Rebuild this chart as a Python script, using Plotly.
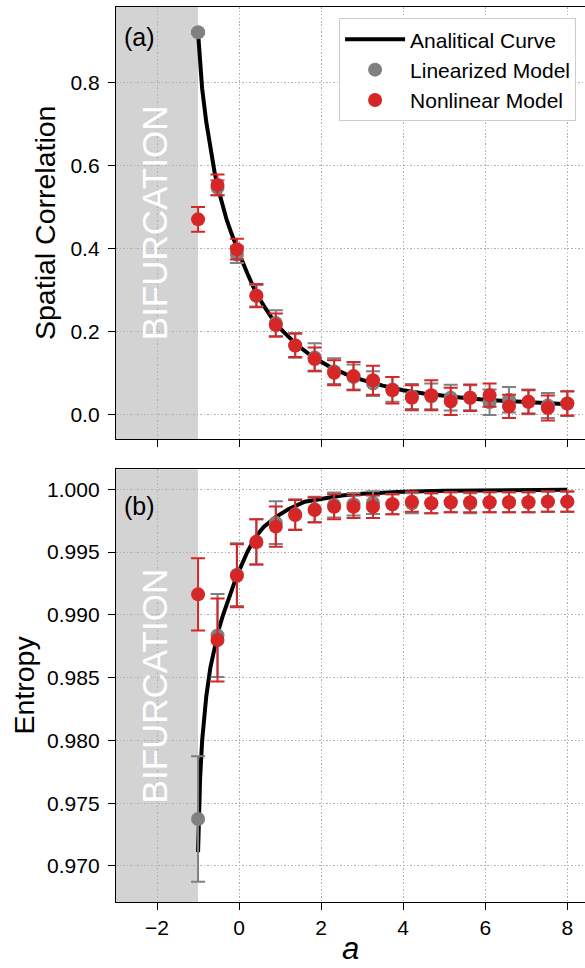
import plotly.graph_objects as go

# ---------------- data ----------------
a_vals = [-1.0, -0.526, -0.053, 0.421, 0.895, 1.368, 1.842, 2.316, 2.789, 3.263,
          3.737, 4.211, 4.684, 5.158, 5.632, 6.105, 6.579, 7.053, 7.526, 8.0]

# (a) spatial correlation
lin_corr = [0.921, 0.546, 0.385, 0.286, 0.220, 0.166, 0.137, 0.104, 0.090, 0.074,
            0.060, 0.043, 0.043, 0.040, 0.040, 0.029, 0.035, 0.030, 0.021, 0.026]
lin_corr_err = [0.004, 0.018, 0.020, 0.026, 0.031, 0.030, 0.034, 0.031, 0.030, 0.030,
                0.030, 0.030, 0.031, 0.031, 0.030, 0.031, 0.031, 0.030, 0.030, 0.030]
nl_corr = [0.470, 0.553, 0.398, 0.286, 0.215, 0.166, 0.133, 0.100, 0.092, 0.082,
           0.058, 0.040, 0.046, 0.031, 0.040, 0.046, 0.019, 0.030, 0.015, 0.026]
nl_corr_err = [0.030, 0.025, 0.025, 0.028, 0.028, 0.028, 0.028, 0.030, 0.034, 0.035,
               0.032, 0.030, 0.036, 0.033, 0.032, 0.028, 0.028, 0.028, 0.030, 0.029]

curve_a_x = [-1.0, -0.95, -0.9, -0.8, -0.7, -0.6, -0.5, -0.4, -0.3, -0.2, -0.1, 0.0,
             0.2, 0.4, 0.6, 0.8, 1.0, 1.4, 1.8, 2.2, 2.6, 3.0, 3.5, 4.0, 4.5, 5.0,
             5.5, 6.0, 6.5, 7.0, 7.5, 8.0]
curve_a_y = [0.920, 0.845, 0.785, 0.705, 0.640, 0.585, 0.540, 0.500, 0.468, 0.440, 0.412, 0.388,
             0.340, 0.295, 0.262, 0.232, 0.207, 0.168, 0.138, 0.115, 0.097, 0.083, 0.069, 0.058,
             0.050, 0.044, 0.039, 0.035, 0.032, 0.029, 0.026, 0.024]

# (b) entropy
lin_ent = [0.97374, 0.98835, 0.99320, 0.99580, 0.99734, 0.99800, 0.99840, 0.99875, 0.99880, 0.99893,
           0.99880, 0.99888, 0.99888, 0.99896, 0.99888, 0.99896, 0.99896, 0.99896, 0.99901, 0.99901]
lin_ent_err = [0.0050, 0.0033, 0.0025, 0.0018, 0.0017, 0.0012, 0.0010, 0.0010, 0.0009, 0.0009,
               0.0008, 0.0008, 0.0008, 0.0008, 0.0008, 0.0008, 0.0008, 0.0008, 0.0008, 0.0008]
nl_ent = [0.99163, 0.98799, 0.99311, 0.99580, 0.99702, 0.99795, 0.99835, 0.99861, 0.99861, 0.99861,
          0.99880, 0.99901, 0.99888, 0.99896, 0.99896, 0.99896, 0.99896, 0.99896, 0.99901, 0.99901]
nl_ent_err = [0.00287, 0.0033, 0.0025, 0.0018, 0.0016, 0.0012, 0.0010, 0.0010, 0.0009, 0.0009,
              0.0008, 0.0008, 0.0008, 0.0008, 0.0008, 0.0008, 0.0008, 0.0008, 0.0008, 0.0008]

curve_b_x = [-1.0, -0.99, -0.97, -0.95, -0.9, -0.85, -0.8, -0.7, -0.6, -0.5, -0.4, -0.3, -0.2,
             -0.1, 0.0, 0.2, 0.4, 0.6, 0.9, 1.2, 1.6, 2.0, 2.5, 3.0, 3.5, 4.0, 5.0, 6.0, 7.0, 8.0]
curve_b_y = [0.9711, 0.9728, 0.9752, 0.9770, 0.9800, 0.9820, 0.9835, 0.9858, 0.9875, 0.9888,
             0.9899, 0.9909, 0.9918, 0.9927, 0.9935, 0.9950, 0.9962, 0.9970, 0.9978, 0.9984,
             0.9990, 0.99925, 0.9995, 0.99965, 0.99975, 0.9998, 0.99988, 0.99992, 0.99994, 0.99995]

bif_start, bif_end = -3.0, -1.0

# ---------------- style ----------------
FONT = "Liberation Sans, Arial, Helvetica, sans-serif"
GRAY = "#808080"
RED = "#d62728"

fig = go.Figure()


def add_panel(xa, ya, curve_x, curve_y, lin, lin_err, nl, nl_err, show):
    fig.add_trace(go.Scatter(x=curve_x, y=curve_y, mode="lines", name="Analitical Curve",
                             line=dict(color="black", width=4), xaxis=xa, yaxis=ya,
                             showlegend=show))
    fig.add_trace(go.Scatter(x=a_vals, y=lin, mode="markers", name="Linearized Model",
                             marker=dict(color=GRAY, size=14),
                             error_y=dict(type="data", array=lin_err, color=GRAY,
                                          thickness=2, width=7),
                             xaxis=xa, yaxis=ya, showlegend=show))
    fig.add_trace(go.Scatter(x=a_vals, y=nl, mode="markers", name="Nonlinear Model",
                             marker=dict(color=RED, size=14),
                             error_y=dict(type="data", array=nl_err, color=RED,
                                          thickness=2, width=7),
                             xaxis=xa, yaxis=ya, showlegend=show))


add_panel("x2", "y2", curve_a_x, curve_a_y, lin_corr, lin_corr_err, nl_corr, nl_corr_err, True)
add_panel("x", "y", curve_b_x, curve_b_y, lin_ent, lin_ent_err, nl_ent, nl_ent_err, False)

axis_common = dict(
    showline=True, linecolor="black", linewidth=1.3,
    ticks="outside", ticklen=7, tickwidth=1.3, tickcolor="black",
    tickfont=dict(family=FONT, size=21, color="black"),
    showgrid=True, gridcolor="#b0b0b0", gridwidth=1.1, griddash="1.5px,2px",
    zeroline=False,
)

xr = [-3.0, 8.431]
fig.update_layout(
    width=585, height=968,
    margin=dict(l=116, r=0, t=7, b=66),
    paper_bgcolor="white", plot_bgcolor="white",
    font=dict(family=FONT, color="black"),
    xaxis=dict(range=xr, tickvals=[-2, 0, 2, 4, 6, 8], mirror=True, anchor="y",
               **axis_common),
    yaxis=dict(domain=[0, 0.4835], range=[0.96713, 1.00159],
               tickvals=[0.970, 0.975, 0.980, 0.985, 0.990, 0.995, 1.000],
               tickformat=".3f", anchor="x", ticklabelstandoff=4, **axis_common),
    xaxis2=dict(range=xr, tickvals=[-2, 0, 2, 4, 6, 8], showticklabels=False,
                mirror=True, anchor="y2", matches="x", **axis_common),
    yaxis2=dict(domain=[0.517, 1.0], range=[-0.0603, 0.982],
                tickvals=[0.0, 0.2, 0.4, 0.6, 0.8], tickformat=".1f",
                anchor="x2", ticklabelstandoff=4, **axis_common),
    legend=dict(x=0.981, y=0.9875, xanchor="right", yanchor="top",
                bgcolor="white", bordercolor="#cccccc", borderwidth=1,
                font=dict(family=FONT, size=21, color="black"), itemwidth=60),
    shapes=[
        dict(type="rect", xref="x2", yref="y2 domain", x0=bif_start, x1=bif_end, y0=0, y1=1,
             fillcolor="lightgray", line=dict(width=0), layer="below"),
        dict(type="rect", xref="x", yref="y domain", x0=bif_start, x1=bif_end, y0=0, y1=1,
             fillcolor="lightgray", line=dict(width=0), layer="below"),
    ],
    annotations=[
        dict(text="BIFURCATION", xref="x2", yref="y2", x=-2.061, y=0.462, textangle=-90,
             showarrow=False, font=dict(family=FONT, size=35, color="white"),
             xanchor="center", yanchor="middle"),
        dict(text="BIFURCATION", xref="x", yref="y", x=-2.061, y=0.98434, textangle=-90,
             showarrow=False, font=dict(family=FONT, size=35, color="white"),
             xanchor="center", yanchor="middle"),
        dict(text="(a)", xref="paper", yref="paper", x=0.0128, y=(902 - 37) / 895,
             xanchor="left", yanchor="middle", showarrow=False,
             font=dict(family=FONT, size=25, color="black")),
        dict(text="(b)", xref="paper", yref="paper", x=0.0128, y=(902 - 505.5) / 895,
             xanchor="left", yanchor="middle", showarrow=False,
             font=dict(family=FONT, size=25, color="black")),
        dict(text="Spatial Correlation", xref="paper", yref="paper",
             x=(45 - 116) / 469, y=(902 - 223) / 895, textangle=-90,
             xanchor="center", yanchor="middle", showarrow=False,
             font=dict(family=FONT, size=28.5, color="black")),
        dict(text="Entropy", xref="paper", yref="paper",
             x=(23 - 116) / 469, y=(902 - 685.5) / 895, textangle=-90,
             xanchor="center", yanchor="middle", showarrow=False,
             font=dict(family=FONT, size=28.5, color="black")),
        dict(text="<i>a</i>", xref="paper", yref="paper",
             x=(350 - 116) / 469, y=(902 - 948) / 895,
             xanchor="center", yanchor="middle", showarrow=False,
             font=dict(family=FONT, size=31, color="black")),
    ],
)

fig.write_html("out.html")
